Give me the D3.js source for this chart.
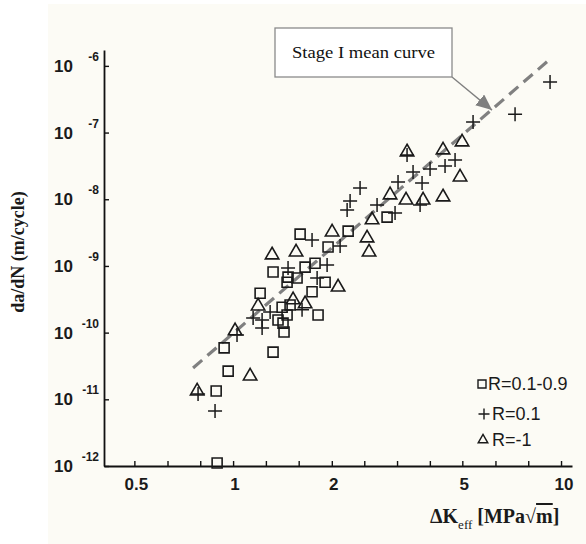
<!DOCTYPE html>
<html>
<head>
<meta charset="utf-8">
<script src="https://cdn.jsdelivr.net/npm/d3@7"></script>
<style>
  html, body { margin: 0; padding: 0; background: #ffffff; }
  svg { display: block; }
</style>
</head>
<body>
<svg id="chart" width="586" height="544"></svg>
<script>
// ---- Data ----
// R = 0.1-0.9 (squares)
const dKSquare   = [0.894, 0.888, 0.966, 0.939, 1.324, 1.209, 1.324, 1.601, 1.411, 1.461, 1.420, 1.430, 1.471, 1.567, 1.658, 1.778, 1.741, 1.816, 1.908, 1.948, 2.243, 2.948, 1.371, 1.492, 1.461];
const rateSquare = [1.11e-12, 1.33e-11, 2.65e-11, 5.9e-11, 5.1e-11, 3.9e-10, 8.1e-10, 3.0e-9, 2.4e-10, 1.84e-10, 1.39e-10, 1.02e-10, 6.8e-10, 6.6e-10, 9.6e-10, 1.10e-9, 4.1e-10, 1.84e-10, 5.7e-10, 1.92e-9, 3.33e-9, 5.4e-9, 1.55e-10, 2.6e-10, 5.7e-10];
// R = 0.1 (plus)
const dKPlus   = [0.881, 0.782, 1.028, 1.151, 1.226, 1.226, 1.471, 1.623, 1.297, 1.741, 1.804, 1.935, 2.120, 2.227, 2.274, 2.439, 2.748, 3.118, 3.184, 3.392, 3.538, 3.717, 3.769, 3.987, 4.429, 4.752, 5.392, 7.241, 9.258];
const ratePlus = [6.7e-12, 1.20e-11, 9.2e-11, 1.66e-10, 1.55e-10, 1.17e-10, 9.3e-10, 2.2e-10, 2.04e-10, 2.44e-9, 6.6e-10, 1.03e-9, 1.99e-9, 6.9e-9, 9.4e-9, 1.47e-8, 8.2e-9, 6.2e-9, 1.81e-8, 4.6e-8, 2.56e-8, 8.2e-9, 1.75e-8, 2.84e-8, 3.15e-8, 3.87e-8, 1.44e-7, 1.89e-7, 5.71e-7];
// R = -1 (triangles)
const dKTri   = [0.777, 1.014, 1.127, 1.192, 1.315, 1.556, 1.524, 1.658, 2.004, 2.090, 2.653, 2.562, 2.598, 3.011, 3.368, 3.796, 4.367, 3.392, 4.367, 4.991, 4.921];
const rateTri = [1.33e-11, 1.06e-10, 2.23e-11, 2.5e-10, 1.46e-9, 1.61e-9, 3.1e-10, 2.7e-10, 3.22e-9, 4.8e-10, 4.9e-9, 2.62e-9, 1.61e-9, 1.16e-8, 9.7e-9, 9.7e-9, 1.08e-8, 5.11e-8, 5.47e-8, 7.21e-8, 2.15e-8];
// Stage I mean curve (straight line in log-log)
const meanCurveDK   = [0.755, 9.06];
const meanCurveRate = [2.95e-11, 1.15e-6];
// Axis ticks
const xTickValues = [0.5, 0.631, 0.794, 1, 1.259, 1.585, 2, 2.512, 3.162, 3.981, 5, 6.31, 7.943, 10];
const xTickLabels = [0.5, 1, 2, 5, 10];
const yTickExponents = [-12, -11, -10, -9, -8, -7, -6];
const legendLabels = ["R=0.1-0.9", "R=0.1", "R=-1"];
const annotationText = "Stage I mean curve";
const annotationTip = [6.16, 2.17e-7];

// ---- Drawing ----
const svg = d3.select("#chart");
const sans = "'Liberation Sans', Arial, Helvetica, sans-serif";
const serif = "'Liberation Serif', 'Times New Roman', Times, serif";
const ink = "#1a1a1a";

// scanned-paper background
svg.append("rect").attr("x", 48).attr("y", 4).attr("width", 538).attr("height", 540).attr("fill", "#fcfbf5");

const x = d3.scaleLog().domain([0.404, 10.8]).range([104, 572]);
const y = d3.scaleLog().domain([1e-12, 1.73e-6]).range([466, 50]);

// x axis (ticks pointing inward)
const gx = svg.append("g").attr("transform", "translate(0,466)")
  .call(d3.axisBottom(x).tickValues(xTickValues).tickSizeInner(-5).tickSizeOuter(0).tickFormat(() => ""));
gx.select(".domain").attr("stroke", "#111").attr("stroke-width", 1.8).attr("fill", "none");
gx.selectAll(".tick line").attr("stroke", "#111").attr("stroke-width", 1.4);

// y axis (ticks pointing inward)
const gy = svg.append("g").attr("transform", "translate(104,0)")
  .call(d3.axisLeft(y).tickValues(yTickExponents.map(e => Math.pow(10, e))).tickSizeInner(-5).tickSizeOuter(0).tickFormat(() => ""));
gy.select(".domain").attr("stroke", "#111").attr("stroke-width", 1.8).attr("fill", "none");
gy.selectAll(".tick line").attr("stroke", "#111").attr("stroke-width", 1.4);

// x tick labels
svg.append("g").selectAll("text").data(xTickLabels).join("text")
  .attr("x", d => x(d) + (d === 10 ? 3 : 2)).attr("y", 490)
  .attr("text-anchor", "middle")
  .attr("font-family", sans).attr("font-weight", "bold").attr("font-size", 17)
  .attr("fill", ink)
  .text(d => d);

// y tick labels 10^n
const yl = svg.append("g").selectAll("g").data(yTickExponents).join("g");
yl.append("text")
  .attr("x", 73).attr("y", d => y(Math.pow(10, d)) + 6)
  .attr("text-anchor", "end")
  .attr("font-family", sans).attr("font-weight", "bold").attr("font-size", 17)
  .attr("fill", ink).text("10");
yl.append("text")
  .attr("x", 99).attr("y", d => y(Math.pow(10, d)) - 5)
  .attr("text-anchor", "end")
  .attr("font-family", sans).attr("font-weight", "bold").attr("font-size", 12)
  .attr("fill", ink).text(d => "-" + Math.abs(d));

// axis titles
svg.append("text")
  .attr("transform", "translate(24,252) rotate(-90)")
  .attr("text-anchor", "middle")
  .attr("font-family", serif).attr("font-weight", "bold").attr("font-size", 18)
  .attr("fill", ink)
  .text("da/dN (m/cycle)");

const xt = svg.append("text")
  .attr("x", 430).attr("y", 523)
  .attr("font-family", serif).attr("font-weight", "bold").attr("font-size", 20).attr("fill", ink);
xt.append("tspan").text("ΔK");
xt.append("tspan").attr("font-size", 13).attr("font-weight", "normal").attr("dy", 6).text("eff");
xt.append("tspan").attr("dy", -6).text("\u00a0[MPa");
xt.append("tspan").attr("font-weight", "normal").text("√");
xt.append("tspan").attr("text-decoration", "overline").text("m");
xt.append("tspan").text("]");

// mean curve (dashed)
svg.append("path")
  .datum(meanCurveDK.map((d, i) => [d, meanCurveRate[i]]))
  .attr("d", d3.line().x(d => x(d[0])).y(d => y(d[1])))
  .attr("fill", "none").attr("stroke", "#808080").attr("stroke-width", 3.2)
  .attr("stroke-dasharray", "12,7");

// markers
const plusPath = s => `M${-s},0H${s}M0,${-s}V${s}`;
const sq = svg.append("g");
sq.selectAll("path").data(dKSquare.map((d, i) => [d, rateSquare[i]])).join("path")
  .attr("transform", d => `translate(${x(d[0])},${y(d[1])})`)
  .attr("d", d3.symbol(d3.symbolSquare, 100)())
  .attr("fill", "none").attr("stroke", ink).attr("stroke-width", 1.6);
const tr = svg.append("g");
tr.selectAll("path").data(dKTri.map((d, i) => [d, rateTri[i]])).join("path")
  .attr("transform", d => `translate(${x(d[0])},${y(d[1])})`)
  .attr("d", d3.symbol(d3.symbolTriangle, 78)())
  .attr("fill", "none").attr("stroke", ink).attr("stroke-width", 1.6);
const pl = svg.append("g");
pl.selectAll("path").data(dKPlus.map((d, i) => [d, ratePlus[i]])).join("path")
  .attr("transform", d => `translate(${x(d[0])},${y(d[1])})`)
  .attr("d", plusPath(7))
  .attr("fill", "none").attr("stroke", ink).attr("stroke-width", 1.5);

// annotation box + arrow
const bx = 275, by = 28, bw = 177, bh = 49;
svg.append("defs").append("marker")
  .attr("id", "ah").attr("markerUnits", "userSpaceOnUse")
  .attr("markerWidth", 18).attr("markerHeight", 16)
  .attr("refX", 16).attr("refY", 7).attr("orient", "auto")
  .append("path").attr("d", "M0,0L16,7L0,14Z").attr("fill", "#7f7f7f");
svg.append("line")
  .attr("x1", bx + bw).attr("y1", by + bh)
  .attr("x2", x(annotationTip[0])).attr("y2", y(annotationTip[1]))
  .attr("stroke", "#7f7f7f").attr("stroke-width", 1.3)
  .attr("marker-end", "url(#ah)");
svg.append("rect").attr("x", bx).attr("y", by).attr("width", bw).attr("height", bh)
  .attr("fill", "#ffffff").attr("stroke", "#8a8a8a").attr("stroke-width", 1.3);
svg.append("text")
  .attr("x", bx + bw / 2).attr("y", 58)
  .attr("text-anchor", "middle")
  .attr("font-family", serif).attr("font-size", 17).attr("fill", "#111")
  .attr("textLength", 143).attr("lengthAdjust", "spacingAndGlyphs")
  .text(annotationText);

// legend
const lg = svg.append("g").attr("transform", "translate(482,0)");
const rows = [384, 414, 440];
lg.append("path").attr("transform", `translate(0,${rows[0]})`)
  .attr("d", d3.symbol(d3.symbolSquare, 64)())
  .attr("fill", "none").attr("stroke", ink).attr("stroke-width", 1.4);
lg.append("path").attr("transform", `translate(2,${rows[1]})`)
  .attr("d", plusPath(5.5))
  .attr("fill", "none").attr("stroke", ink).attr("stroke-width", 1.4);
lg.append("path").attr("transform", `translate(1,${rows[2]})`)
  .attr("d", d3.symbol(d3.symbolTriangle, 40)())
  .attr("fill", "none").attr("stroke", ink).attr("stroke-width", 1.4);
lg.selectAll("text.l").data(legendLabels).join("text")
  .attr("class", "l")
  .attr("x", (d, i) => i === 0 ? 6 : 10).attr("y", (d, i) => rows[i] + 6)
  .attr("font-family", sans).attr("font-size", 18).attr("fill", ink)
  .text(d => d);
</script>
</body>
</html>
